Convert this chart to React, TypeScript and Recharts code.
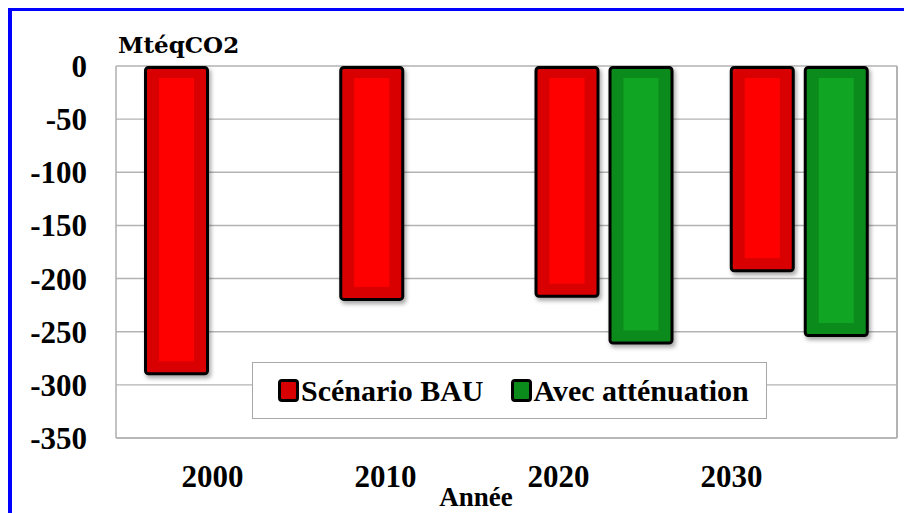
import React from 'react';
import { BarChart, Bar, XAxis, YAxis, CartesianGrid, Legend } from 'recharts';

const years = ['2000', '2010', '2020', '2030'];
const bauValues = [-291, -221, -218, -194];
const avecValues: (number | null)[] = [null, null, -262, -255];
const yTicks = [0, -50, -100, -150, -200, -250, -300, -350];
const seriesNames = ['Scénario BAU', 'Avec atténuation'];
const yUnit = 'MtéqCO2';
const xTitle = 'Année';

const data = years.map((y, i) => ({ year: y, bau: bauValues[i], avec: avecValues[i] }));

const FONT = '"Liberation Serif", "Times New Roman", serif';
const GRID = '#b3b3b3';
const colors = [
  { outer: '#d80000', inner: '#ff0000' },
  { outer: '#0c8b1d', inner: '#10a522' },
];

const makeShape = (outer: string, inner: string) => (props: any) => {
  const { x, y, width, height } = props;
  if (x == null || y == null || height == null) return <g />;
  const top = height < 0 ? y + height : y;
  const h = Math.abs(height);
  if (h < 2) return <g />;
  const sw = 3;
  return (
    <g>
      <rect x={x + 2} y={top + 3} width={width} height={h} rx={4} fill="rgba(0,0,0,0.35)" filter="url(#barShadow)" />
      <rect x={x + sw / 2} y={top + sw / 2} width={width - sw} height={h - sw} rx={3} fill={outer} stroke="#000" strokeWidth={sw} />
      <rect x={x + 15} y={top + 12} width={width - 30} height={Math.max(0, h - 26)} fill={inner} />
    </g>
  );
};

const renderLegend = () => (
  <div
    style={{
      boxSizing: 'border-box',
      width: 515,
      height: 57,
      border: '1.5px solid #a8a8a8',
      background: '#fff',
      display: 'flex',
      alignItems: 'center',
      paddingLeft: 25,
      fontFamily: FONT,
      fontWeight: 'bold',
      fontSize: 30,
      color: '#000',
      whiteSpace: 'nowrap',
    }}
  >
    {seriesNames.map((n, i) => (
      <span key={n} style={{ display: 'flex', alignItems: 'center', marginRight: i === 0 ? 27 : 0 }}>
        <span
          style={{
            boxSizing: 'border-box',
            display: 'inline-block',
            width: 21,
            height: 23,
            border: '3px solid #000',
            borderRadius: 4,
            background: colors[i].outer,
            marginRight: 2,
          }}
        />
        <span>{n}</span>
      </span>
    ))}
  </div>
);

export default function App() {
  return (
    <div style={{ position: 'absolute', left: 0, top: 0, width: 904, height: 513, overflow: 'hidden', background: '#fff' }}>
      <div
        style={{
          position: 'absolute',
          left: 8,
          top: 7.5,
          width: 1000,
          height: 700,
          borderTop: '3.5px solid #0000ff',
          borderLeft: '4px solid #0000ff',
        }}
      />
      <div style={{ position: 'absolute', left: 0, top: 0 }}>
        <BarChart
          width={904}
          height={513}
          data={data}
          margin={{ top: 66, right: 0, bottom: 0, left: 0 }}
          barCategoryGap={28}
          barGap={9}
        >
          <defs>
            <filter id="barShadow" x="-20%" y="-20%" width="140%" height="140%">
              <feGaussianBlur stdDeviation="2" />
            </filter>
          </defs>
          <CartesianGrid vertical={false} stroke={GRID} strokeWidth={1.4} />
          <XAxis dataKey="year" hide height={0} />
          <XAxis
            xAxisId="lbl"
            dataKey="year"
            height={75}
            padding={{ left: 10, right: 79 }}
            axisLine={{ stroke: GRID, strokeWidth: 1.6 }}
            tickLine={false}
            tickSize={0}
            tickMargin={27}
            interval={0}
            tick={{ fontFamily: FONT, fontWeight: 'bold', fontSize: 31, fill: '#000' }}
          />
          <YAxis
            type="number"
            domain={[-350, 0]}
            ticks={yTicks}
            interval={0}
            width={116}
            axisLine={{ stroke: GRID, strokeWidth: 1.6 }}
            tickLine={false}
            tickSize={0}
            tickMargin={29}
            tick={{ fontFamily: FONT, fontWeight: 'bold', fontSize: 31, fill: '#000' }}
          />
          <YAxis
            yAxisId="right"
            orientation="right"
            type="number"
            domain={[-350, 0]}
            width={7}
            tick={false}
            tickLine={false}
            axisLine={{ stroke: GRID, strokeWidth: 2 }}
          />
          <Legend
            verticalAlign="middle"
            align="center"
            layout="horizontal"
            content={renderLegend}
            wrapperStyle={{ position: 'absolute', left: 252, top: 362, width: 515, height: 57 }}
          />
          <Bar dataKey="bau" name={seriesNames[0]} fill={colors[0].outer} shape={makeShape(colors[0].outer, colors[0].inner)} isAnimationActive={false} />
          <Bar dataKey="avec" name={seriesNames[1]} fill={colors[1].outer} shape={makeShape(colors[1].outer, colors[1].inner)} isAnimationActive={false} />
          <text x={118} y={53} fontFamily='"DejaVu Serif", serif' fontWeight="bold" fontSize={23} fill="#000">
            {yUnit}
          </text>
          <text x={476} y={506} textAnchor="middle" fontFamily={FONT} fontWeight="bold" fontSize={27} fill="#000">
            {xTitle}
          </text>
        </BarChart>
      </div>
    </div>
  );
}
